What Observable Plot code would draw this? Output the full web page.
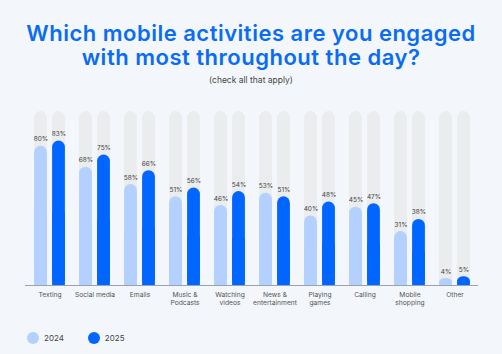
<!DOCTYPE html>
<html>
<head>
<meta charset="utf-8">
<script src="https://cdn.jsdelivr.net/npm/d3@7"></script>
<script src="https://cdn.jsdelivr.net/npm/@observablehq/plot@0.6"></script>
<style>
  html, body { margin: 0; padding: 0; background: #f3f7fb; width: 502px; height: 354px; overflow: hidden; font-family: Inter, "Noto Sans", sans-serif; }
  #title { position: absolute; top: 21px; left: 0; width: 502px; text-align: center; color: #0a6cf5; font-weight: 600; font-size: 22px; line-height: 24px; letter-spacing: 0.5px; }
  #subtitle { position: absolute; top: 75px; left: 0; width: 502px; text-align: center; color: #444; font-size: 8.5px; }
  #chart { position: absolute; top: 100px; left: 0; }
  #legend { position: absolute; top: 332px; left: 27px; font-size: 8px; color: #444; display: flex; align-items: center; }
  .sw { width: 12px; height: 12px; border-radius: 50%; display: inline-block; margin-right: 5px; }
  .item { display: flex; align-items: center; margin-right: 24px; }
</style>
</head>
<body>
<div id="title">Which mobile activities are you engaged<br>with most throughout the day?</div>
<div id="subtitle">(check all that apply)</div>
<div id="chart"></div>
<div id="legend"></div>
<script>
const categories = ["Texting", "Social media", "Emails", "Music & Podcasts", "Watching videos", "News & entertainment", "Playing games", "Calling", "Mobile shopping", "Other"];
const tickLabels = ["Texting", "Social media", "Emails", "Music &\nPodcasts", "Watching\nvideos", "News &\nentertainment", "Playing\ngames", "Calling", "Mobile\nshopping", "Other"];
const values2024 = [80, 68, 58, 51, 46, 53, 40, 45, 31, 4];
const values2025 = [83, 75, 66, 56, 54, 51, 48, 47, 38, 5];
const years = ["2024", "2025"];
const colors = ["#b3d0ff", "#0066ff"];

const d24 = categories.map((c, i) => ({cat: c, v: values2024[i]}));
const d25 = categories.map((c, i) => ({cat: c, v: values2025[i]}));
const track = categories.map(c => ({cat: c, v: 100}));
const labelOf = Object.fromEntries(categories.map((c, i) => [c, tickLabels[i]]));

const W = 502, H = 215;
const band = 45.2;
const barW = 13, gap = 5;
const inOuter = band / 2 - gap / 2 - barW; // outer inset
const inInner = band / 2 + gap / 2;        // inner inset
const rr = 6.5;

function pair(data, fill, left, rounded) {
  const insets = left ? {insetLeft: inOuter, insetRight: inInner} : {insetLeft: inInner, insetRight: inOuter};
  return [
    Plot.barY(data, {x: "cat", y: "v", fill, rx: rounded, ry: rounded, ...insets}),
    Plot.barY(data, {x: "cat", y1: 0, y2: d => d.v / 2, fill, ...insets})
  ];
}

const plot = Plot.plot({
  width: W,
  height: H,
  marginTop: 11,
  marginBottom: 30,
  marginLeft: 25,
  marginRight: 24,
  style: {background: "transparent", fontFamily: "Inter, 'Noto Sans', sans-serif"},
  x: {domain: categories, padding: 0, label: null, tickSize: 0, tickPadding: 6, tickFormat: c => labelOf[c]},
  y: {domain: [0, 100], axis: null},
  marks: [
    ...pair(track, "#ebeced", true, rr),
    ...pair(track, "#ebeced", false, rr),
    ...pair(d24, colors[0], true, rr),
    ...pair(d25, colors[1], false, rr),
    Plot.ruleY([0], {stroke: "#9aa3ad", strokeWidth: 1}),
    Plot.text(d24, {x: "cat", y: "v", text: d => d.v + "%", dx: -(band/2 - inOuter - barW/2), dy: -7, fontSize: 6.5, fill: "#444"}),
    Plot.text(d25, {x: "cat", y: "v", text: d => d.v + "%", dx: (band/2 - inOuter - barW/2), dy: -7, fontSize: 6.5, fill: "#444"}),
    Plot.axisX({tickSize: 0, tickPadding: 6, fontSize: 6.7, fill: "#555", tickFormat: c => labelOf[c], label: null, lineHeight: 1.15})
  ]
});
document.getElementById("chart").appendChild(plot);

const legend = document.getElementById("legend");
years.forEach((y, i) => {
  const it = document.createElement("div");
  it.className = "item";
  it.innerHTML = `<span class="sw" style="background:${colors[i]}"></span><span>${y}</span>`;
  legend.appendChild(it);
});
</script>
</body>
</html>
